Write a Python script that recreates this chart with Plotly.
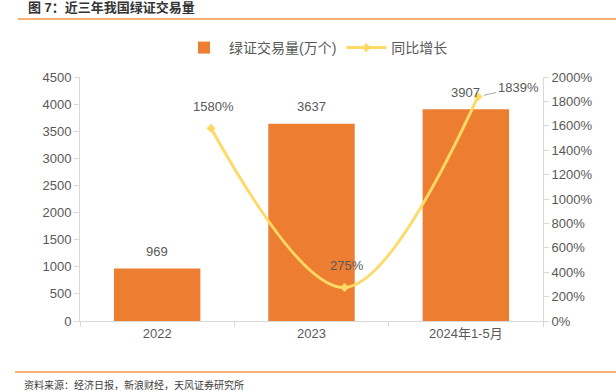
import plotly.graph_objects as go

categories = ["2022", "2023", "2024年1-5月"]
volume = [969, 3637, 3907]
growth = [1580, 275, 1839]
volume_ticks = [0, 500, 1000, 1500, 2000, 2500, 3000, 3500, 4000, 4500]
growth_ticks = [0, 200, 400, 600, 800, 1000, 1200, 1400, 1600, 1800, 2000]

W, H = 616, 392
L, T = 80, 77
R = W - 543
B = H - 321
PW, PH = W - L - R, H - T - B

def px(x):
    return (x - L) / PW

def py(y):
    return 1 - (y - T) / PH

GRAY = "#595959"
AXIS = "#D9D9D9"
ORANGE = "#ED7D31"
YELLOW = "#FFD966"
FONT = "Liberation Sans, Noto Sans CJK SC, sans-serif"

fig = go.Figure()
fig.add_trace(go.Bar(
    x=categories, y=volume, name="绿证交易量(万个)",
    marker=dict(color=ORANGE, line=dict(width=0)), width=0.56,
    xaxis="x", yaxis="y",
))
fig.add_trace(go.Scatter(
    x=[0, 1, 2], y=growth, name="同比增长", mode="lines+markers",
    line=dict(color=YELLOW, width=3, shape="spline", smoothing=1),
    marker=dict(symbol="diamond", size=7, color=YELLOW),
    xaxis="x2", yaxis="y2",
))

annotations = []
for i, v in enumerate(volume):
    annotations.append(dict(x=i, y=v, xref="x", yref="y", text=str(v), showarrow=False,
                            yshift=17, font=dict(size=13, color=GRAY)))
annotations.append(dict(x=0, y=growth[0], xref="x2", yref="y2", text=f"{growth[0]}%",
                        showarrow=False, yshift=22, xshift=2, font=dict(size=13, color=GRAY)))
annotations.append(dict(x=1, y=growth[1], xref="x2", yref="y2", text=f"{growth[1]}%",
                        showarrow=False, yshift=22, xshift=2, font=dict(size=13, color=GRAY)))
annotations.append(dict(x=2, y=growth[2], xref="x2", yref="y2", text=f"{growth[2]}%",
                        showarrow=True, arrowhead=0, arrowcolor="#A6A6A6", arrowwidth=1,
                        ax=40, ay=-9, standoff=6, font=dict(size=13, color=GRAY)))
annotations.append(dict(x=px(22), y=py(385), xref="paper", yref="paper",
                        text="资料来源：经济日报，新浪财经，天风证券研究所", showarrow=False,
                        xanchor="left", yanchor="middle", font=dict(size=10, color="#404040")))
annotations.append(dict(x=px(26), y=py(8), xref="paper", yref="paper",
                        text="<b>图 7：近三年我国绿证交易量</b>", showarrow=False,
                        xanchor="left", yanchor="middle", font=dict(size=13, color="#333333")))

shapes = [
    dict(type="line", xref="paper", yref="paper", x0=px(18), x1=px(616), y0=py(19), y1=py(19),
         line=dict(color="#F79646", width=1.5)),
    dict(type="line", xref="paper", yref="paper", x0=px(15), x1=px(616), y0=py(372), y1=py(372),
         line=dict(color="#F79646", width=1.5)),
]

lo = -(211 - 80) / 133.5
hi = 2 + (543 - 478) / 133.5

fig.update_layout(
    width=W, height=H,
    margin=dict(l=L, r=R, t=T, b=B),
    paper_bgcolor="white", plot_bgcolor="white",
    font=dict(family=FONT, size=13, color=GRAY),
    showlegend=True,
    legend=dict(orientation="h", x=px(316), xanchor="center", y=py(48), yanchor="middle",
                font=dict(size=14, color=GRAY), itemwidth=40, bgcolor="rgba(0,0,0,0)"),
    bargap=0.44,
    xaxis=dict(type="category", range=[-0.5, 2.5], showline=True, linecolor=AXIS, linewidth=1,
               ticks="outside", tickson="boundaries", ticklen=5, tickcolor=AXIS,
               showgrid=False, tickfont=dict(size=13, color=GRAY), anchor="y"),
    xaxis2=dict(overlaying="x", range=[lo, hi], visible=False, anchor="y2"),
    yaxis=dict(range=[0, 4500], tickvals=volume_ticks, showline=True, linecolor=AXIS,
               linewidth=1, ticks="outside", ticklen=5, tickcolor=AXIS, showgrid=False,
               zeroline=False, tickfont=dict(size=13, color=GRAY), anchor="x"),
    yaxis2=dict(range=[0, 2000], tickvals=growth_ticks, ticktext=[f"{t}%" for t in growth_ticks],
                overlaying="y", side="right", anchor="x", showline=True, linecolor=AXIS,
                linewidth=1, ticks="outside", ticklen=5, tickcolor=AXIS, showgrid=False,
                zeroline=False, tickfont=dict(size=13, color=GRAY)),
    annotations=annotations,
    shapes=shapes,
)

fig.write_html("out.html", config=dict(displayModeBar=False),
               post_script="document.body.style.margin='0px';document.body.style.overflow='hidden';")
